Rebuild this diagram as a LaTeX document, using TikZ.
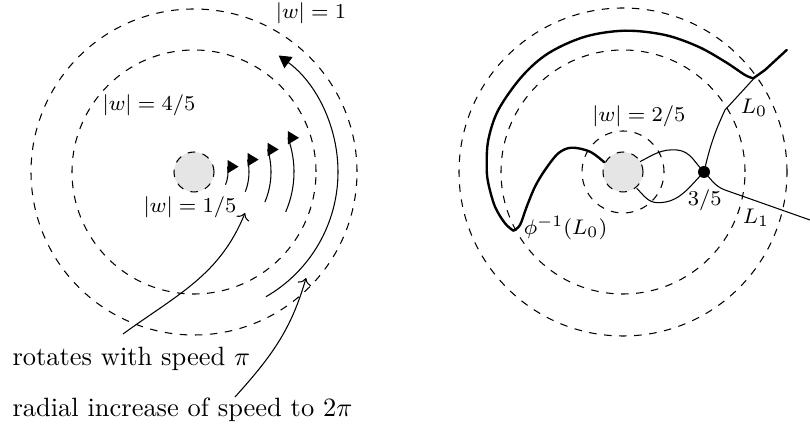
\documentclass[tikz,border=0pt]{standalone}
\usepackage{amsmath}
\usetikzlibrary{arrows.meta}
\tikzset{
  circd/.style={dash pattern=on 2.85pt off 2.85pt, line width=0.4pt},
  lbl/.style={font=\fontsize{8.5}{10}\selectfont, inner sep=0pt},
  bigtxt/.style={inner sep=0pt, anchor=base west},
  boldcurve/.style={line width=0.9pt, line join=round, line cap=round},
  pics/etri/.style={code={\fill (0,6.7) -- (11,0) -- (0,-6.7) -- cycle;}}
}
\begin{document}
\begin{tikzpicture}[x=0.378pt,y=0.378pt]
\useasboundingbox (0,0) rectangle (810,428);
% ---------- left picture ----------
\coordinate (C1) at (194,256);
\draw[circd] (C1) circle[radius=163];
\draw[circd] (C1) circle[radius=122];
\filldraw[fill=gray!20, circd] (C1) circle[radius=20];
% small arcs
\draw ([shift={(-22:34)}]C1) arc[start angle=-22,end angle=9,radius=34];
\pic at ([shift={(9:34)}]C1) {etri};
\draw ([shift={(-21:55)}]C1) arc[start angle=-21,end angle=13,radius=55];
\pic at ([shift={(13:55)}]C1) {etri};
\draw ([shift={(-23:77)}]C1) arc[start angle=-23,end angle=17,radius=77];
\pic at ([shift={(17:77)}]C1) {etri};
\draw ([shift={(-23.5:100)}]C1) arc[start angle=-23.5,end angle=20,radius=100];
\pic at ([shift={(20:100)}]C1) {etri};
% big arc
\draw[-{Triangle[length=4.6pt,width=5.2pt]}] ([shift={(-60:144)}]C1) arc[start angle=-60,end angle=54,radius=144];
% labels
\node[lbl] (l1) at (311,415) {$|w|=1$};
\node[lbl] (l45) at (149,323) {$|w|=4/5$};
\node[lbl] (l15) at (190,221) {$|w|=1/5$};
\node[bigtxt] (t1) at (12,62.5) {rotates with speed $\pi$};
\node[bigtxt] (t2) at (12,11.5) {radial increase of speed to $2\pi$};
\coordinate (a1s) at (123,94);
\coordinate (a1e) at (245,215);
\coordinate (a2s) at (235,31);
\coordinate (a2e) at (306,150);
\draw[->] (a1s) to[out=36,in=248] (a1e);
\draw[->] (a2s) to[out=48,in=254] (a2e);
% ---------- right picture ----------
\coordinate (C2) at (623,256);
\draw[circd] (C2) circle[radius=164];
\draw[circd] (C2) circle[radius=122];
\draw[circd] (C2) circle[radius=41];
\filldraw[fill=gray!20, circd] (C2) circle[radius=20];
\coordinate (D) at (704,256);
% bold curve phi^{-1}(L_0)
\draw[boldcurve] plot[smooth, tension=0.55] coordinates {(604.3,265.7) (590,276.3) (571.7,280.3) (558.3,274.7) (545,258) (535,241.3) (526.7,221.3) (520,203) (513.3,197.3)}
  -- plot[smooth, tension=0.55] coordinates {(513.3,197.3) (505,204.7) (495,221.3) (488.3,244.7) (486.7,261.3) (488.3,288) (498.3,318) (521.7,351.3) (548.3,374.7) (585,391.3) (625,397.3) (665,393) (698.3,381.3) (725,366.3) (745,353) (753.3,349.7)}
  -- (765,358) -- (786.7,378);
% L0
\draw (755,350.7) -- (725,318) to[out=245,in=77] (D);
% L1
\draw (D) to[out=-45,in=160] (725,238) -- (810,208);
% disk to dot
\draw (640,266.3) to[out=28,in=175] (677,278) to[out=-5,in=135] (D);
\draw (636.7,239.7) to[out=-45,in=180] (658,225.3) to[out=0,in=225] (D);
\fill (D) circle[radius=6];
% labels
\node[lbl] (l25) at (638.8,311.7) {$|w|=2/5$};
\node[lbl] (lL0) at (754,320) {$L_0$};
\node[lbl] (l35) at (704.7,227.5) {$3/5$};
\node[lbl] (lL1) at (756,210) {$L_1$};
\node[lbl] (lphi) at (565.5,200) {$\phi^{-1}(L_0)$};
\end{tikzpicture}
\end{document}
